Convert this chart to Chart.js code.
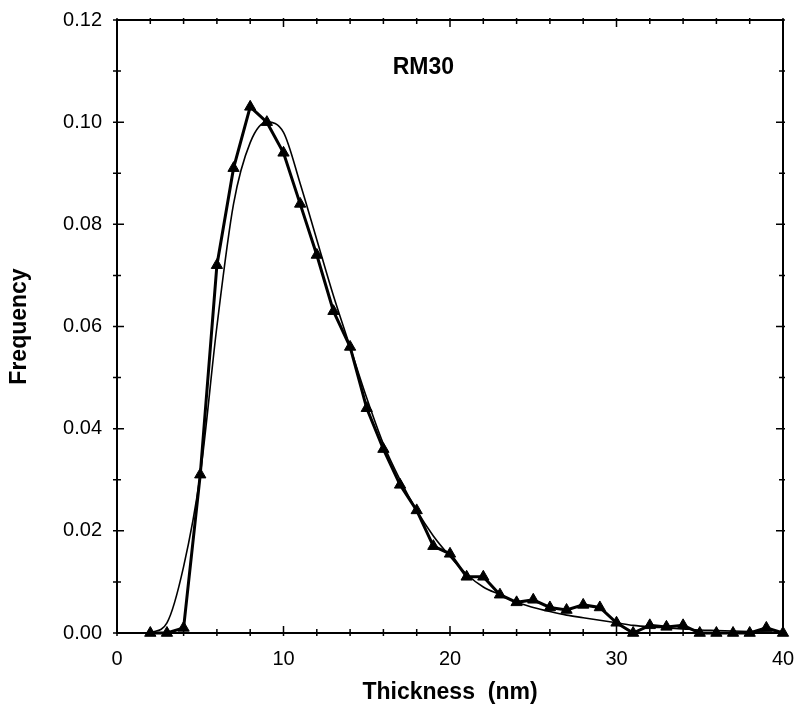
<!DOCTYPE html>
<html>
<head>
<meta charset="utf-8">
<script src="https://cdn.jsdelivr.net/npm/chart.js@4"></script>
<style>
  body { margin: 0; background: #fff; }
  canvas { display: block; }
</style>
</head>
<body>
<canvas id="chart" width="794" height="708"></canvas>
<script>
// thickness bins (nm)
const thickness = [2, 3, 4, 5, 6, 7, 8, 9, 10, 11, 12, 13, 14, 15, 16, 17, 18, 19, 20, 21,
  22, 23, 24, 25, 26, 27, 28, 29, 30, 31, 32, 33, 34, 35, 36, 37, 38, 39, 40];

// measured frequencies (triangles)
const measured = [0, 0, 0.001, 0.031, 0.072, 0.091, 0.103, 0.100, 0.094, 0.084, 0.074, 0.063,
  0.056, 0.044, 0.036, 0.029, 0.024, 0.017, 0.0155, 0.011, 0.011, 0.0075, 0.006, 0.0065,
  0.005, 0.0045, 0.0055, 0.005, 0.002, 0, 0.0015, 0.0012, 0.0015, 0, 0, 0, 0, 0.001, 0];

// fitted curve (thin line)
const fitted = [0, 0.002, 0.013, 0.031, 0.060, 0.084, 0.096, 0.100, 0.098, 0.088, 0.077, 0.066,
  0.056, 0.046, 0.037, 0.030, 0.024, 0.019, 0.015, 0.0115, 0.009, 0.0075, 0.006, 0.005,
  0.0042, 0.0035, 0.003, 0.0025, 0.002, 0.0015, 0.0012, 0.001, 0.0008, 0.0006, 0.0005,
  0.0004, 0.0003, 0.0002, 0.0001];

const xTicks = [0, 10, 20, 30, 40];
const yTicks = [0, 0.02, 0.04, 0.06, 0.08, 0.10, 0.12];
const sampleLabel = "RM30";

const fontName = "'Liberation Sans', Arial, Helvetica, sans-serif";

// frame, inward ticks and sample label
const frameTicks = {
  id: "frameTicks",
  afterDraw(chart) {
    const ctx = chart.ctx;
    const { left, right, top, bottom } = chart.chartArea;
    const xs = chart.scales.x;
    const ys = chart.scales.y;
    ctx.save();
    ctx.strokeStyle = "#000";
    ctx.lineWidth = 2;
    ctx.strokeRect(left, top, right - left, bottom - top);

    ctx.lineWidth = 1.5;
    ctx.beginPath();
    for (let v = 0; v <= 40; v += 2) {
      const px = xs.getPixelForValue(v);
      const len = v % 10 === 0 ? 7 : 4;
      ctx.moveTo(px, bottom + 3);
      ctx.lineTo(px, bottom - len);
      ctx.moveTo(px, top - 2);
      ctx.lineTo(px, top + len);
    }
    for (let i = 0; i <= 12; i++) {
      const py = ys.getPixelForValue(i / 100);
      const len = i % 2 === 0 ? 7 : 4;
      ctx.moveTo(left - 4, py);
      ctx.lineTo(left + len, py);
      ctx.moveTo(right + 2, py);
      ctx.lineTo(right - len, py);
    }
    ctx.stroke();

    ctx.fillStyle = "#000";
    ctx.font = "bold 23px " + fontName;
    ctx.textAlign = "center";
    ctx.textBaseline = "middle";
    ctx.fillText(sampleLabel, xs.getPixelForValue(18.4), ys.getPixelForValue(0.1106));
    ctx.restore();
  }
};

new Chart(document.getElementById("chart"), {
  type: "line",
  data: {
    datasets: [
      {
        label: "Fit",
        data: thickness.map((t, i) => ({ x: t, y: fitted[i] })),
        borderColor: "#000",
        borderWidth: 1.6,
        pointRadius: 0,
        cubicInterpolationMode: "monotone",
        fill: false
      },
      {
        label: "Measured",
        data: thickness.map((t, i) => ({ x: t, y: measured[i] })),
        borderColor: "#000",
        backgroundColor: "#000",
        borderWidth: 3,
        pointStyle: "triangle",
        pointRadius: 6.5,
        pointBorderWidth: 1,
        tension: 0,
        fill: false,
        clip: false
      }
    ]
  },
  options: {
    responsive: false,
    animation: false,
    layout: { padding: { left: 0, right: 11, top: 20, bottom: 0 } },
    plugins: {
      legend: { display: false },
      tooltip: { enabled: false }
    },
    scales: {
      x: {
        type: "linear",
        min: 0,
        max: 40,
        afterBuildTicks(scale) { scale.ticks = xTicks.map(v => ({ value: v })); },
        afterFit(scale) {
          scale.height = 75;
          scale.paddingLeft = 0;
          scale.paddingRight = 0;
        },
        grid: { display: false, drawTicks: false },
        border: { display: false },
        ticks: {
          color: "#000",
          font: { family: fontName, size: 20 },
          padding: 14,
          maxRotation: 0
        },
        title: {
          display: true,
          text: "Thickness  (nm)",
          color: "#000",
          font: { family: fontName, size: 23, weight: "bold" },
          padding: { top: 0, bottom: 2 }
        }
      },
      y: {
        type: "linear",
        min: 0,
        max: 0.12,
        afterBuildTicks(scale) { scale.ticks = yTicks.map(v => ({ value: v })); },
        afterFit(scale) {
          scale.width = 117;
          scale.paddingTop = 0;
          scale.paddingBottom = 0;
        },
        grid: { display: false, drawTicks: false },
        border: { display: false },
        ticks: {
          color: "#000",
          font: { family: fontName, size: 20 },
          padding: 15,
          callback: v => v.toFixed(2)
        },
        title: {
          display: true,
          text: "Frequency",
          color: "#000",
          font: { family: fontName, size: 23, weight: "bold" },
          padding: { top: 6, bottom: 0 }
        }
      }
    }
  },
  plugins: [frameTicks]
});
</script>
</body>
</html>
